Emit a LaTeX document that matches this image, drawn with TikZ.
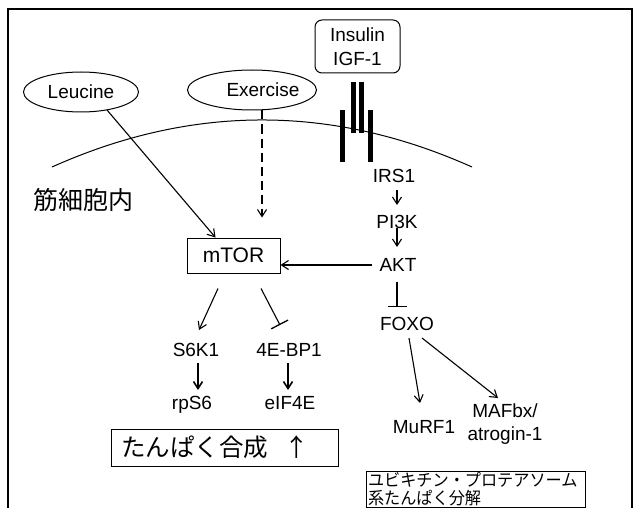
\documentclass[tikz,border=0pt]{standalone}
\usepackage{fontspec}
\setmainfont{Liberation Sans}
\newfontfamily\jp{Noto Sans CJK JP}
\newfontfamily\jpc[FakeStretch=0.95]{Noto Sans CJK JP}
\usetikzlibrary{arrows.meta,calc,shapes.geometric}
\begin{document}
\begin{tikzpicture}[x=1pt,y=-1pt,
  font=\fontsize{19}{23}\selectfont,
  every node/.style={inner sep=0pt},
  tx/.style={text height=13.6pt,text depth=0pt},
  ln/.style={line width=1.1pt},
  arr/.style={ln,-{Straight Barb[length=7pt,width=9pt]}},
  inh/.style={ln,-{Bar[width=19pt,line width=1.3pt]}},
  ell/.style={draw,ellipse,line width=1pt,inner sep=0pt},
  box/.style={draw,line width=1pt}]
\useasboundingbox (0,0) rectangle (634,508);
% frame
\draw[line width=1.3pt] (8,508) -- (8,9) -- (632,9) -- (632,508);
% membrane
\draw[line width=1pt] (52,167) .. controls (192,104.3) and (332,104.3) .. (472,167);
% receptor
\fill (340,110) rectangle (345,162);
\fill (351,82) rectangle (356,133);
\fill (359,82) rectangle (364,133);
\fill (368,110) rectangle (373,162);
% nodes
\node[ell, minimum width=115pt, minimum height=40pt] (leu) at (81,92) {Leucine};
\node[ell, minimum width=129pt, minimum height=40pt] (exe) at (252,90) {\makebox[73pt][l]{\hspace{11pt}Exercise}};
\node[box, rounded corners=7pt, minimum width=85pt, minimum height=53pt, align=center,
      font=\fontsize{19}{24}\selectfont] (ins) at (357.5,46.5) {Insulin\\IGF-1};
\node[font=\jp\fontsize{25}{25}\selectfont] (cell) at (83,200) {筋細胞内};
\node[box, minimum width=93pt, minimum height=35pt, font=\fontsize{21}{21}\selectfont] (mtor) at (233.5,255.5) {mTOR};
\node[tx] (irs) at (394,176) {IRS1};
\node[tx] (pi) at (397,222) {PI3K};
\node[tx] (akt) at (398,265) {AKT};
\node[tx] (foxo) at (407,324) {FOXO};
\node[tx] (s6k) at (196,350) {S6K1};
\node[tx] (bp) at (289,350) {4E-BP1};
\node[tx] (rps) at (192,403) {rpS6};
\node[tx] (eif) at (290,403) {eIF4E};
\node[tx] (murf) at (424,427) {MuRF1};
\node[align=center] (maf) at (505,424) {MAFbx/\\atrogin-1};
\node[box, minimum width=227pt, minimum height=37pt, text width=207pt, align=left, inner xsep=10pt,
      font=\jp\fontsize{24.5}{24.5}\selectfont] (syn) at (224.5,447.5) {たんぱく合成\hspace{16pt}↑};
\node[box, minimum width=219pt, minimum height=36pt, text width=215pt, inner xsep=2pt, align=left,
      font=\jpc\fontsize{17}{17.5}\selectfont] (ubq) at (475.5,489) {ユビキチン・プロテアソーム\\系たんぱく分解};
% connectors
\draw[arr] ($(leu.center)+(26,18)$) -- ($(mtor.north)+(-18,0)$);
\draw[arr, dash pattern=on 9pt off 5pt] ($(exe.south)+(10,0)$) -- ($(mtor.north)+(28.5,-20)$);
\draw[arr] ($(akt.west)+(-7,0)$) -- (akt.west -| mtor.east);
\draw[arr] ($(irs.center)+(3,14)$) -- ($(irs.center)+(3,29)$);
\draw[arr] ($(pi.center)+(0,6)$) -- ($(akt.center)+(-1,-18)$);
\draw[inh] ($(akt.center)+(-1,17)$) -- ($(foxo.center)+(-10,-17)$);
\draw[arr] ($(foxo.center)+(2,14)$) -- ($(murf.center)+(-4,-24)$);
\draw[arr] ($(foxo.center)+(15,14)$) -- ($(maf.center)+(-7,-26)$);
\draw[arr] ($(mtor.south)+(-15.5,15)$) -- ($(s6k.center)+(3,-20)$);
\draw[inh] ($(mtor.south)+(27.5,15)$) -- ($(bp.center)+(-9,-25)$);
\draw[arr, line width=1.6pt] ($(s6k.center)+(2,13)$) -- ($(rps.center)+(6,-13)$);
\draw[arr, line width=1.6pt] ($(bp.center)+(-1,13)$) -- ($(eif.center)+(-2,-13)$);
\end{tikzpicture}
\end{document}
